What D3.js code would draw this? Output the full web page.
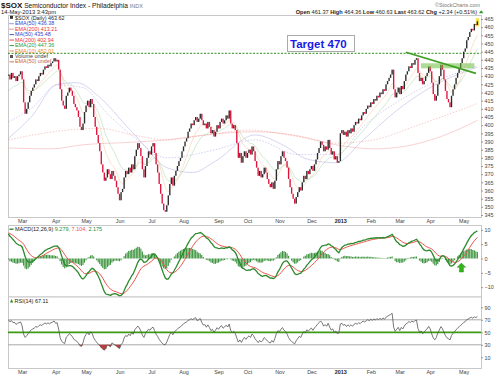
<!DOCTYPE html>
<html>
<head>
<meta charset="utf-8">
<script src="https://cdn.jsdelivr.net/npm/d3@7"></script>
<style>
body { margin: 0; background: #fff; }
svg { font-family: "Liberation Sans", Arial, sans-serif; }
</style>
</head>
<body>
<div class="chart"></div>
<script>
(function(){

var closes = [
  431, 428, 432, 429, 430, 427, 430, 431, 433, 428,
  414, 407, 410, 414, 418, 421, 423, 425, 428, 427,
  430, 432, 431, 434, 436, 435, 437, 436, 438, 439,
  441, 439, 440, 434, 422, 415, 412, 410, 418, 420,
  423, 421, 418, 413, 411, 409, 405, 399, 397, 401,
  408, 412, 415, 411, 416, 413, 405, 399, 394, 389,
  384, 376, 371, 366, 368, 373, 370, 367, 372, 369,
  366, 362, 358, 354, 359, 361, 368, 372, 370, 374,
  371, 376, 373, 381, 385, 389, 386, 381, 373, 368,
  375, 380, 384, 382, 387, 389, 383, 376, 371, 364,
  358, 352, 348, 347, 351, 357, 364, 368, 363, 369,
  372, 375, 378, 380, 384, 387, 390, 392, 396, 398,
  401, 400, 403, 405, 402, 404, 407, 403, 400, 401,
  398, 402, 399, 395, 397, 393, 396, 400, 398, 402,
  404, 401, 403, 406, 404, 409, 401, 398, 400, 397,
  389, 380, 383, 377, 381, 384, 380, 383, 385, 382,
  387, 384, 378, 374, 369, 372, 368, 370, 374, 371,
  367, 364, 362, 365, 361, 366, 373, 378, 376, 381,
  384, 380, 378, 374, 367, 362, 358, 355, 352, 356,
  359, 362, 360, 365, 369, 367, 372, 370, 373, 375,
  372, 376, 379, 383, 386, 390, 388, 384, 387, 385,
  391, 386, 382, 384, 379, 381, 377, 378, 395, 397,
  394, 396, 393, 397, 395, 398, 396, 400, 402, 401,
  404, 403, 406, 408, 407, 410, 412, 411, 414, 413,
  416, 415, 418, 417, 420, 419, 422, 421, 425, 427,
  429, 431, 434, 422, 417, 420, 423, 419, 424, 422,
  427, 431, 433, 436, 435, 438, 437, 440, 441, 432,
  427, 429, 425, 427, 430, 432, 436, 433, 426, 419,
  415, 418, 425, 430, 437, 434, 428, 421, 416, 414,
  411, 418, 422, 425, 429, 432, 435, 438, 441, 445,
  447, 452, 454, 457, 459, 458, 462, 461.28, 463.62
];

// month labels and the bar index where each month starts
var monthLabels = ["Mar","Apr","May","Jun","Jul","Aug","Sep","Oct","Nov","Dec","2013","Feb","Mar","Apr","May"];
var monthStarts = [9, 31, 51, 73, 94, 115, 138, 157, 178, 199, 218, 238, 257, 277, 299];

var priceTicks = [465,460,455,450,445,440,435,430,425,420,415,410,405,400,395,390,385,380,375,370,365,360,355,350,345];
var macdTicks = [10, 5, 0, -5, -10];
var rsiTicks = [90, 70, 50, 30, 10];

// long moving averages (bar index, value)
var ma200Idx = [0, 28, 49, 80, 104, 129, 162, 190, 215, 240, 260, 284, 308];
var ma200Val = [386, 385.5, 388, 389.5, 391, 394, 396, 393.5, 388, 385.5, 387, 393, 402.9];
var ema200Idx = [0, 39, 60, 82, 104, 130, 158, 190, 215, 240, 266, 308];
var ema200Val = [391, 397, 398, 394, 391, 394, 397, 393, 389, 391, 399, 413.2];
var ma50Idx = [0, 15, 32, 45, 60, 78, 87, 104, 121, 136, 162, 180, 197, 215, 233, 255, 277, 308];
var ma50Val = [392, 405, 425, 426, 417, 399, 390, 374, 371, 378, 394, 388, 379, 377, 391, 409, 423, 435.5];
var ema50Idx = [0, 16, 32, 49, 65, 82, 104, 136, 162, 190, 215, 233, 266, 308];
var ema50Val = [402, 411, 424.6, 423, 407, 393, 380, 385, 391, 382, 382, 399, 420, 436.4];

// indicator levels at the left edge of the chart
var ema10Start = 428, ema20Start = 420;
var macdStart = 9.3, signalStart = 9.0;
var rsiGainStart = 3.5, rsiLossStart = 1.5;

// annotations
var targetLevel = 444;
var trendIdx = [261, 307], trendVal = [444.6, 431.7];
var zoneIdx = [271, 306], zoneVal = [434.8, 437.9];
var arrowIdx = 297.5, arrowTip = -1.6, arrowBase = -4.7;

var legendText = ["EMA(50) 436.38","EMA(200) 413.21","MA(50) 435.48","MA(200) 402.94","EMA(20) 447.36","EMA(10) 452.01","Volume undef","EMA(50) undef"];
var quoteLabels = ["Open","High","Low","Last","Chg"];
var quoteValues = ["461.37","464.36","460.63","463.62","+2.34 (+0.51%)"];

// ---- indicators ----
function ema(vals, n, seed){
    var k = 2 / (n + 1), prev = seed, out = [];
    vals.forEach(function(v){ prev = v * k + prev * (1 - k); out.push(prev); });
    return out;
}
var ema10 = ema(closes, 10, ema10Start);
var ema20 = ema(closes, 20, ema20Start);
var e12 = ema(closes, 12, closes[0]);
var e26 = ema(closes, 26, closes[0] - macdStart);
var macd = e12.map(function(v, i){ return v - e26[i]; });
var signal = ema(macd, 9, signalStart);
var hist = macd.map(function(v, i){ return v - signal[i]; });

var rsi = [], ag = rsiGainStart, al = rsiLossStart;
closes.forEach(function(c, i){
    var ch = i === 0 ? 0 : c - closes[i-1];
    ag = (ag * 13 + Math.max(ch, 0)) / 14;
    al = (al * 13 + Math.max(-ch, 0)) / 14;
    rsi.push(100 - 100 / (1 + ag / al));
});

// ---- layout ----
var width = 500, height = 375;
var L = 8, R = 481;
var svg = d3.select(".chart").append("svg")
    .attr("width", width).attr("height", height);

var x = d3.scaleLinear().domain([0, 308]).range([8.4, 477.4]);
var y = d3.scaleLinear().domain([345, 465]).range([215, 19]);
var ym = d3.scaleLinear().domain([-10, 10]).range([287.2, 229.8]);
var yr = d3.scaleLinear().domain([10, 90]).range([357.3, 307.3]);

var panels = [[15, 217, "clipMain"], [225, 296.5, "clipMacd"], [296.5, 368, "clipRsi"]];
var defs = svg.append("defs");
panels.forEach(function(p){
    defs.append("clipPath").attr("id", p[2]).append("rect")
        .attr("x", L).attr("y", p[0]).attr("width", R - L).attr("height", p[1] - p[0]);
    svg.append("rect").attr("x", L + 0.5).attr("y", p[0] + 0.5)
        .attr("width", R - L).attr("height", p[1] - p[0])
        .attr("fill", "#fff").attr("stroke", "#c8c8c8");
});

// ---- header ----
var hdr = svg.append("text").attr("x", 1).attr("y", 8).attr("font-size", 6.6).attr("fill", "#111");
hdr.append("tspan").attr("font-weight", "bold").attr("font-size", 8).text("$SOX");
hdr.append("tspan").text(" Semiconductor Index - Philadelphia ");
hdr.append("tspan").attr("fill", "#777").attr("font-size", 5.5).text("INDX");
svg.append("text").attr("x", 1).attr("y", 13.6).attr("font-size", 5.8).attr("fill", "#222")
    .text("14-May-2013 3:43pm");
svg.append("text").attr("x", 480).attr("y", 7.3).attr("text-anchor", "end")
    .attr("font-size", 5.4).attr("fill", "#777").text("\u00a9StockCharts.com");
var q = svg.append("text").attr("x", 477).attr("y", 13.6).attr("text-anchor", "end")
    .attr("font-size", 5.6).attr("fill", "#222");
quoteLabels.forEach(function(lb, i){
    q.append("tspan").attr("font-weight", "bold").text((i ? "  " : "") + lb + " ");
    q.append("tspan").text(quoteValues[i]);
});
svg.append("path").attr("d", "M479,13.3 l2.2,-3 l2.2,3 z").attr("fill", "#2a9a2a");

// ---- main price panel ----
var main = svg.append("g").attr("clip-path", "url(#clipMain)");

var lineIdx = d3.line().x(function(d){ return x(d[0]); }).y(function(d){ return y(d[1]); })
    .curve(d3.curveMonotoneX);
function pairs(idx, val){ return idx.map(function(v, i){ return [v, val[i]]; }); }

var maLines = [
    [pairs(ma200Idx, ma200Val), "#f29a9a", null, 0.9],
    [pairs(ema200Idx, ema200Val), "#f08080", "1.5,1.5", 0.8],
    [pairs(ma50Idx, ma50Val), "#a4a4e0", null, 0.9],
    [pairs(ema50Idx, ema50Val), "#8c8ce0", "1.5,1.5", 0.8],
    [ema20.map(function(v, i){ return [i, v]; }), "#8fcc8f", null, 0.8],
    [ema10.map(function(v, i){ return [i, v]; }), "#f7b77a", null, 0.8]
];
maLines.forEach(function(m){
    main.append("path").datum(m[0]).attr("d", lineIdx)
        .attr("fill", "none").attr("stroke", m[1]).attr("stroke-width", m[3])
        .attr("stroke-dasharray", m[2]).attr("opacity", 0.5);
});

main.append("line").attr("x1", L).attr("x2", R)
    .attr("y1", y(targetLevel)).attr("y2", y(targetLevel))
    .attr("stroke", "#2c8f1c").attr("stroke-width", 1).attr("stroke-dasharray", "2,1.5");

// last bar highlight
var last = closes.length - 1;
main.append("rect").attr("x", x(last) - 1.6).attr("width", 3.4)
    .attr("y", y(465.5)).attr("height", y(460.5) - y(465.5)).attr("fill", "#f4e04a");

main.selectAll(".candle")
    .data(closes)
    .enter()
    .append("rect")
    .attr("class", "candle")
    .attr("x", function(d, i){ return x(i) - 0.68; })
    .attr("width", 1.36)
    .attr("y", function(d, i){
        var o = i ? closes[i-1] : d;
        return y(Math.max(o, d));
    })
    .attr("height", function(d, i){
        var o = i ? closes[i-1] : d;
        return Math.max(1.2, Math.abs(y(o) - y(d)));
    })
    .attr("fill", function(d, i){
        var o = i ? closes[i-1] : d;
        return d >= o ? "#2a2a2a" : "#dc143c";
    });

// support zone and falling trend line
main.append("rect")
    .attr("x", x(zoneIdx[0])).attr("width", x(zoneIdx[1]) - x(zoneIdx[0]))
    .attr("y", y(zoneVal[1])).attr("height", y(zoneVal[0]) - y(zoneVal[1]))
    .attr("fill", "#6cbb3c").attr("opacity", 0.55);
main.append("line")
    .attr("x1", x(trendIdx[0])).attr("y1", y(trendVal[0]))
    .attr("x2", x(trendIdx[1])).attr("y2", y(trendVal[1]))
    .attr("stroke", "#3f9f22").attr("stroke-width", 1.6);

// target box
svg.append("rect").attr("x", 287.5).attr("y", 35.5).attr("width", 67).attr("height", 16)
    .attr("fill", "#fff").attr("stroke", "#aaa");
svg.append("text").attr("x", 290).attr("y", 47.6).attr("font-size", 11.5)
    .attr("font-weight", "bold").attr("fill", "#1a1ae6").text("Target 470");

// legend
var leg = svg.append("g").attr("font-size", 5.4);
leg.append("rect").attr("x", 10).attr("y", 15.8).attr("width", 3).attr("height", 3).attr("fill", "#333");
leg.append("text").attr("x", 15).attr("y", 19.5).attr("fill", "#222").text("$SOX (Daily) 463.62");
var legColors = ["#3344cc","#ee3333","#3344cc","#ee3333","#339933","#ee8822","#444","#cc6633"];
legendText.forEach(function(t, i){
    var by = 25.3 + i * 5.45;
    if (i === 6) {
        leg.append("rect").attr("x", 10).attr("y", by - 3).attr("width", 3).attr("height", 3).attr("fill", "#555");
    } else {
        leg.append("line").attr("x1", 9.5).attr("x2", 14).attr("y1", by - 1.6).attr("y2", by - 1.6)
            .attr("stroke", legColors[i]).attr("stroke-width", 0.9)
            .attr("stroke-dasharray", i < 2 ? "1.2,0.8" : null);
    }
    leg.append("text").attr("x", 15).attr("y", by).attr("fill", legColors[i]).text(t);
});

// ---- MACD panel ----
var mg = svg.append("g").attr("clip-path", "url(#clipMacd)");
mg.selectAll(".hbar")
    .data(hist)
    .enter()
    .append("rect")
    .attr("class", "hbar")
    .attr("x", function(d, i){ return x(i) - 0.6; })
    .attr("width", 1.15)
    .attr("y", function(d){ return ym(Math.max(0, d)); })
    .attr("height", function(d){ return Math.abs(ym(d) - ym(0)); })
    .attr("fill", "#3e9440");
var lineM = d3.line().x(function(d, i){ return x(i); }).y(function(d){ return ym(d); });
mg.append("path").datum(signal).attr("d", lineM).attr("fill", "none")
    .attr("stroke", "#e8544c").attr("stroke-width", 1);
mg.append("path").datum(macd).attr("d", lineM).attr("fill", "none")
    .attr("stroke", "#2b8a2b").attr("stroke-width", 1.3);

var ax = x(arrowIdx), at = ym(arrowTip), ab = ym(arrowBase);
mg.append("path")
    .attr("d", "M" + ax + "," + at + " l4.2,4.2 h-2.2 V" + ab + " h-4 V" + (at + 4.2) + " h-2.2 z")
    .attr("fill", "#35b31d").attr("stroke", "#278a14").attr("stroke-width", 0.5);

var ml = svg.append("text").attr("x", 15).attr("y", 231).attr("font-size", 5.5).attr("fill", "#222");
svg.append("line").attr("x1", 9.5).attr("x2", 13.5).attr("y1", 229.2).attr("y2", 229.2)
    .attr("stroke", "#2b8a2b").attr("stroke-width", 1.4);
ml.append("tspan").text("MACD(12,26,9) ");
ml.append("tspan").attr("fill", "#2b8a2b").text("9.279, ");
ml.append("tspan").attr("fill", "#e8544c").text("7.104, ");
ml.append("tspan").attr("fill", "#2b8a2b").text("2.175");

// ---- RSI panel ----
var rg = svg.append("g").attr("clip-path", "url(#clipRsi)");
[70, 30].forEach(function(v){
    rg.append("line").attr("x1", L).attr("x2", R).attr("y1", yr(v)).attr("y2", yr(v))
        .attr("stroke", "#a8a8a8").attr("stroke-width", 1);
});
rg.append("path").datum(rsi)
    .attr("d", d3.area().x(function(d, i){ return x(i); })
        .y0(yr(30)).y1(function(d){ return yr(Math.min(d, 30)); }))
    .attr("fill", "#c0393b");
rg.append("line").attr("x1", L).attr("x2", R).attr("y1", yr(50)).attr("y2", yr(50))
    .attr("stroke", "#3d9a12").attr("stroke-width", 1.8);
rg.append("path").datum(rsi)
    .attr("d", d3.line().x(function(d, i){ return x(i); }).y(function(d){ return yr(d); }))
    .attr("fill", "none").attr("stroke", "#555").attr("stroke-width", 0.8);

svg.append("path").attr("d", "M10,302.5 l1.6,-3.6 l1.6,3.6 z").attr("fill", "#2b8a2b");
svg.append("text").attr("x", 14.5).attr("y", 302.5).attr("font-size", 5.5).attr("fill", "#222")
    .text("RSI(14) 67.11");

// ---- axes ----
function styleAxis(g){
    g.attr("font-size", 5.4).attr("font-family", "Liberation Sans, Arial, sans-serif");
    g.select(".domain").remove();
    g.selectAll("text").attr("fill", "#444");
    g.selectAll("line").attr("stroke", "#999");
}
function monthAxis(){
    return d3.axisBottom(x).tickValues(monthStarts)
        .tickFormat(function(d, i){ return monthLabels[i]; }).tickSize(0);
}
var gx1 = svg.append("g").attr("transform", "translate(0,217)").call(monthAxis().tickPadding(2.6));
var gx2 = svg.append("g").attr("transform", "translate(0,368)").call(monthAxis().tickPadding(2.4));
[gx1, gx2].forEach(function(g){
    styleAxis(g);
    g.selectAll("text").attr("font-weight", function(d, i){ return monthLabels[i] === "2013" ? "bold" : null; })
        .attr("fill", function(d, i){ return monthLabels[i] === "2013" ? "#222" : "#444"; });
});

styleAxis(svg.append("g").attr("transform", "translate(" + R + ",0)")
    .call(d3.axisRight(y).tickValues(priceTicks).tickSize(2).tickPadding(1.5)));
styleAxis(svg.append("g").attr("transform", "translate(" + R + ",0)")
    .call(d3.axisRight(ym).tickValues(macdTicks).tickSize(2).tickPadding(1.5)));
styleAxis(svg.append("g").attr("transform", "translate(" + R + ",0)")
    .call(d3.axisRight(yr).tickValues(rsiTicks).tickSize(2).tickPadding(1.5)));

})();
</script>
</body>
</html>
